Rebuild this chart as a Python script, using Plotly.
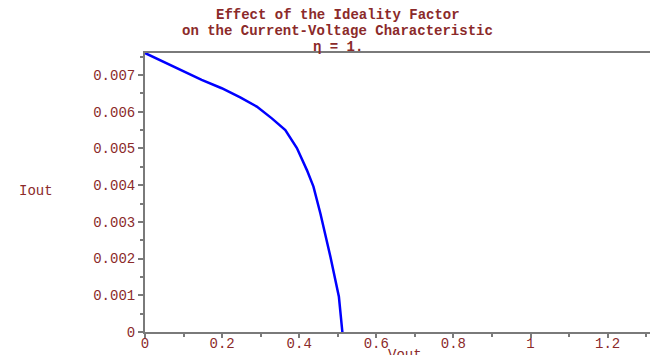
import plotly.graph_objects as go

# Data
v_out = [0.0, 0.048, 0.10, 0.147, 0.199, 0.247, 0.29, 0.329, 0.364, 0.394,
         0.42, 0.437, 0.455, 0.481, 0.503, 0.512]
i_out = [0.0076, 0.00736, 0.00712, 0.00687, 0.00664, 0.00639, 0.00614, 0.00582,
         0.00550, 0.00501, 0.00441, 0.00396, 0.00323, 0.00205, 0.00096, 0.0]

x_tickvals = [0, 0.2, 0.4, 0.6, 0.8, 1.0, 1.2]
x_ticktext = ["0", "0.2", "0.4", "0.6", "0.8", "1", "1.2"]
y_tickvals = [0, 0.001, 0.002, 0.003, 0.004, 0.005, 0.006, 0.007]
y_ticktext = ["0", "0.001", "0.002", "0.003", "0.004", "0.005", "0.006", "0.007"]

title_lines = ["Effect of the Ideality Factor",
               "on the Current-Voltage Characteristic",
               "η = 1."]

TXT = "#8b2a2a"
FONT = "Liberation Mono"

fig = go.Figure()
fig.add_trace(go.Scatter(x=v_out, y=i_out, mode="lines",
                         line=dict(color="#0000ff", width=2.5), showlegend=False))

axis_common = dict(showgrid=False, zeroline=False, showline=True, automargin=False,
                   linecolor="#7a7a7a", linewidth=2, ticks="outside",
                   tickcolor="#7a7a7a", tickwidth=1.5,
                   tickfont=dict(family=FONT, size=14, color=TXT))

fig.update_xaxes(range=[0, 1.31], tickvals=x_tickvals, ticktext=x_ticktext,
                 mirror=True, ticklen=4, ticklabelstandoff=-7,
                 minor=dict(tickvals=[0.1, 0.3, 0.5, 0.7, 0.9, 1.1, 1.3],
                            ticks="outside", ticklen=3, tickcolor="#7a7a7a"),
                 **axis_common)
fig.update_yaxes(range=[0, 0.0076], tickvals=y_tickvals, ticktext=y_ticktext,
                 ticklen=5,
                 minor=dict(tickvals=[0.0005, 0.0015, 0.0025, 0.0035, 0.0045,
                                      0.0055, 0.0065, 0.0075],
                            ticks="outside", ticklen=3, tickcolor="#7a7a7a"),
                 **axis_common)

shifts = [38, 22, 6]
for line, s in zip(title_lines, shifts):
    fig.add_annotation(text=line, xref="paper", yref="paper", x=0.382, y=1,
                       xanchor="center", yanchor="middle", yshift=s,
                       showarrow=False,
                       font=dict(family=FONT, size=14, color=TXT, weight="bold"))

fig.add_annotation(text="Iout", xref="paper", yref="paper", x=0, y=0.505,
                   xanchor="center", yanchor="middle", xshift=-109,
                   showarrow=False, font=dict(family=FONT, size=14, color=TXT))
fig.add_annotation(text="Vout", xref="paper", yref="paper", x=0.515, y=0,
                   xanchor="center", yanchor="middle", yshift=-23,
                   showarrow=False, font=dict(family=FONT, size=14, color=TXT))

# The page adds an 8px body margin, so the margins are offset to compensate
fig.update_layout(width=659, height=355,
                  margin=dict(l=137, r=17, t=45, b=31),
                  paper_bgcolor="white", plot_bgcolor="white")

fig.write_html("out.html")
